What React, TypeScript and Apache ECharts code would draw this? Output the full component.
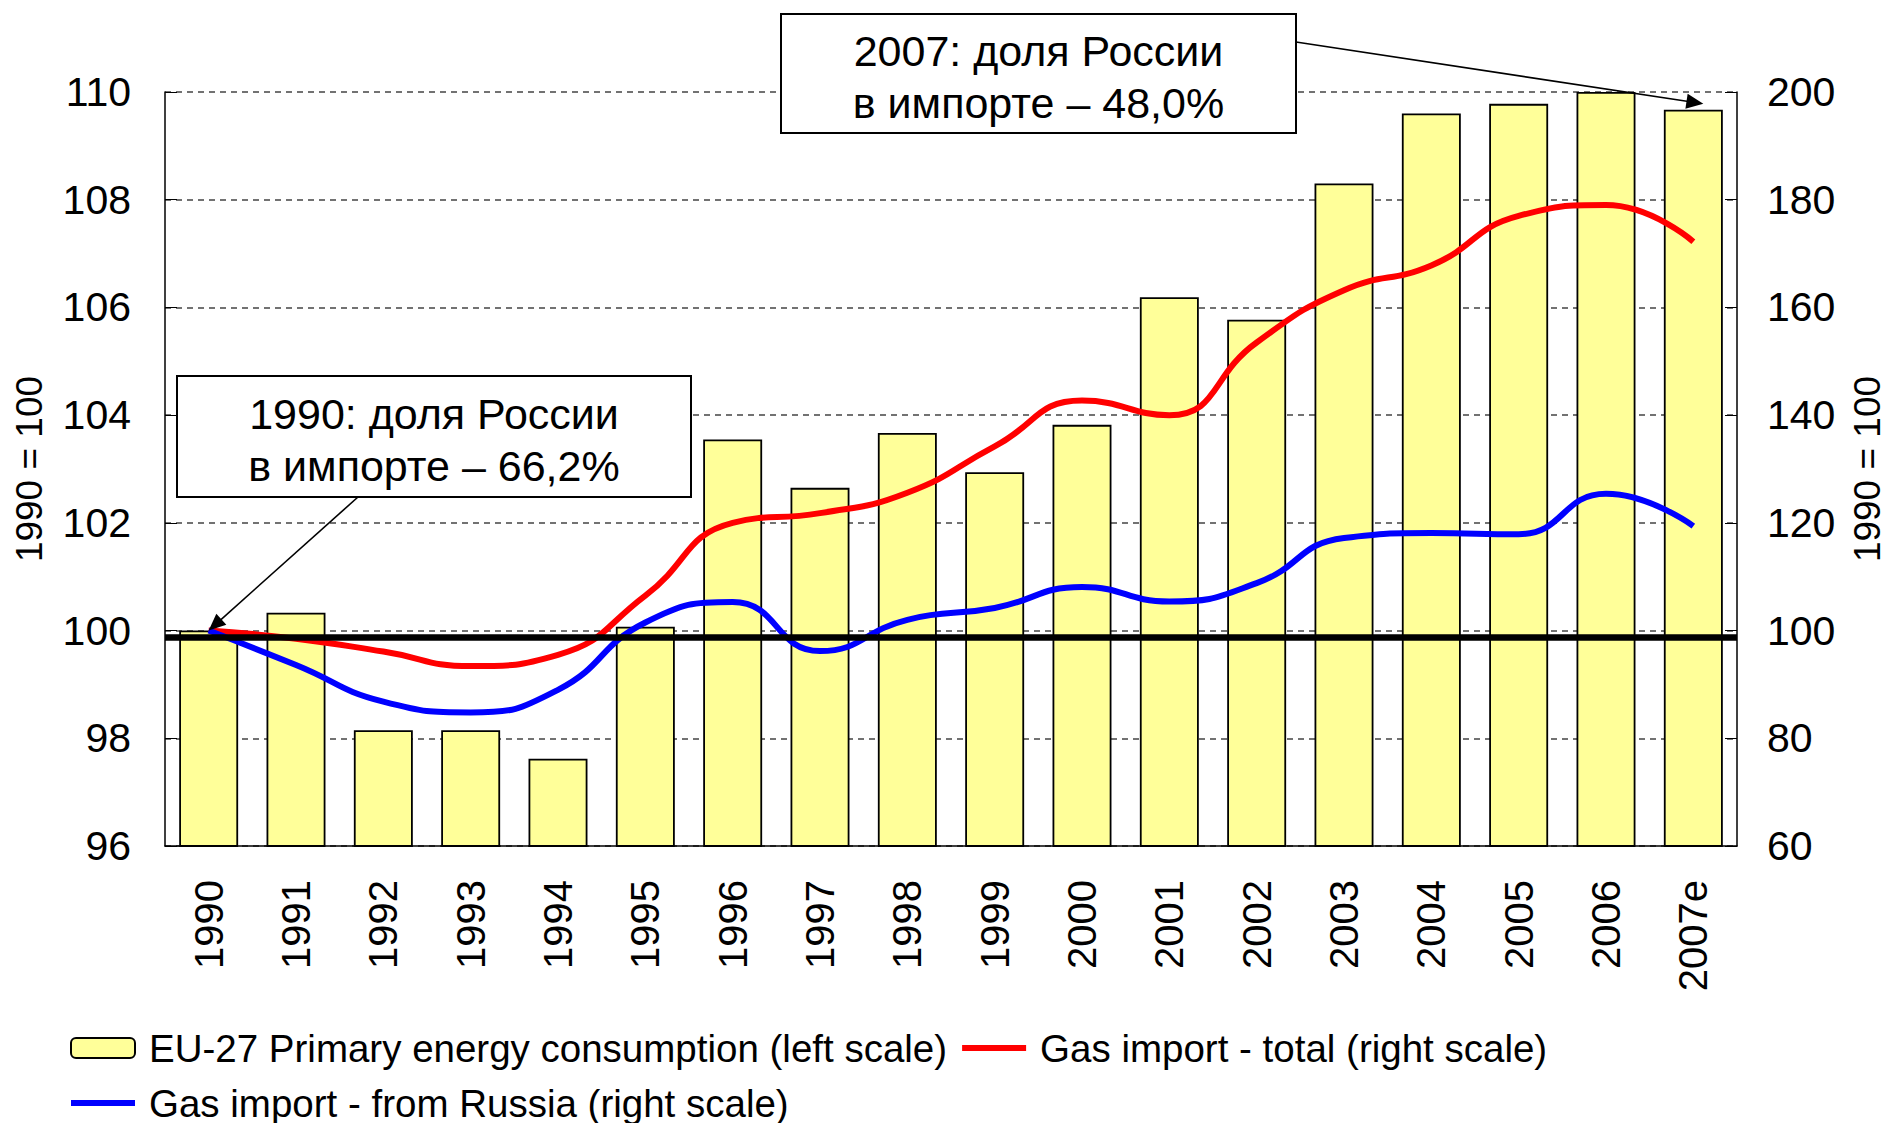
import React, { useEffect, useRef } from "react";
import * as echarts from "echarts";

const categories = [
  "1990", "1991", "1992", "1993", "1994", "1995", "1996", "1997", "1998",
  "1999", "2000", "2001", "2002", "2003", "2004", "2005", "2006", "2007e",
];
// EU-27 primary energy consumption, 1990 = 100 (left scale)
const consumption = [
  100.0, 100.33, 98.15, 98.15, 97.62, 100.07, 103.55, 102.65, 103.67,
  102.94, 103.82, 106.19, 105.77, 108.3, 109.6, 109.78, 110.0, 109.67,
];
// Gas import - total, 1990 = 100 (right scale)
const gasTotal = [
  100, 98.5, 96.1, 93.4, 95.5, 106.5, 120.0, 121.8, 125.6,
  134.2, 142.7, 140.0, 153.5, 163.2, 167.8, 177.0, 179.0, 172.2,
];
// Gas import - from Russia, 1990 = 100 (right scale)
const gasRussia = [
  100, 93.6, 86.8, 84.8, 89.0, 101.5, 105.3, 96.2, 102.0,
  104.2, 108.1, 105.4, 108.8, 117.2, 118.1, 117.9, 125.4, 119.4,
];
const baselineValue = 99.87;
const leftAxis = { min: 96, max: 110, interval: 2 };
const rightAxis = { min: 60, max: 200, interval: 20 };
const axisName = "1990 = 100";
const seriesNames = [
  "EU-27 Primary energy consumption (left scale)",
  "Gas import - total (right scale)",
  "Gas import - from Russia (right scale)",
];
const note1990 = ["1990: доля России", "в импорте – 66,2%"];
const note2007 = ["2007: доля России", "в импорте – 48,0%"];
const note1990Target = { category: "1990", value: 100 };
const note2007Target = { category: "2007e", value: 109.67 };

const FONT = "'Liberation Sans', Arial, Helvetica, sans-serif";
const LINE_ICON = "path://M0 0H64V6H0Z";

function arrow(id: string, sx: number, sy: number, tx: number, ty: number) {
  const dx = tx - sx;
  const dy = ty - sy;
  const len = Math.sqrt(dx * dx + dy * dy);
  const ux = dx / len;
  const uy = dy / len;
  const L = 17;
  const W = 7.5;
  const bx = tx - ux * L;
  const by = ty - uy * L;
  const nx = -uy;
  const ny = ux;
  return [
    {
      id: id + "-line",
      type: "line",
      z: 100,
      shape: { x1: sx, y1: sy, x2: bx + ux * 2, y2: by + uy * 2 },
      style: { stroke: "#000", lineWidth: 1.6 },
    },
    {
      id: id + "-head",
      type: "polygon",
      z: 100,
      shape: {
        points: [
          [tx, ty],
          [bx + nx * W, by + ny * W],
          [bx - nx * W, by - ny * W],
        ],
      },
      style: { fill: "#000" },
    },
  ];
}

function noteBox(id: string, x: number, y: number, w: number, h: number, lines: string[]) {
  return {
    id,
    type: "group",
    x,
    y,
    z: 100,
    children: [
      {
        type: "rect",
        shape: { x: 0, y: 0, width: w, height: h },
        style: { fill: "#fff", stroke: "#000", lineWidth: 2 },
        z: 100,
      },
      {
        type: "text",
        x: w / 2,
        y: h / 2 + 3,
        z: 101,
        style: {
          text: lines.join("\n"),
          fontSize: 43,
          fontFamily: FONT,
          fill: "#000",
          align: "center",
          verticalAlign: "middle",
          lineHeight: 52,
        },
      },
    ],
  };
}

export default function App() {
  const ref = useRef<HTMLDivElement>(null);

  useEffect(() => {
    if (!ref.current) return;
    const chart = echarts.init(ref.current, null, { renderer: "svg" });

    const box1990 = { x: 177, y: 376, w: 514, h: 121 };
    const box2007 = { x: 781, y: 14, w: 515, h: 119 };

    const option: any = {
      animation: false,
      textStyle: { fontFamily: FONT, color: "#000" },
      grid: {
        left: 165,
        right: 153,
        top: 92,
        bottom: 277,
        containLabel: false,
        outerBoundsMode: "none",
      },
      legend: {
        left: 70,
        top: 1028,
        width: 1500,
        padding: 0,
        itemWidth: 64,
        itemHeight: 20,
        itemGap: 15,
        data: [
          { name: seriesNames[0] },
          { name: seriesNames[1], icon: LINE_ICON },
          { name: seriesNames[2], icon: LINE_ICON },
        ],
        textStyle: {
          fontSize: 38.5,
          color: "#000",
          fontFamily: FONT,
          lineHeight: 40,
          padding: [0, 0, 0, 9],
        },
      },
      xAxis: {
        type: "category",
        data: categories,
        boundaryGap: true,
        axisLine: { lineStyle: { color: "#000", width: 1.5 } },
        axisTick: { inside: true, length: 12, lineStyle: { color: "#000", width: 1 } },
        axisLabel: { rotate: 90, margin: 34, fontSize: 40, color: "#000", fontFamily: FONT },
        splitLine: { show: false },
      },
      yAxis: [
        {
          type: "value",
          position: "left",
          min: leftAxis.min,
          max: leftAxis.max,
          interval: leftAxis.interval,
          name: axisName,
          nameLocation: "middle",
          nameRotate: 90,
          nameGap: 117,
          nameTextStyle: { fontSize: 37, color: "#000", fontFamily: FONT },
          axisLine: { show: true, lineStyle: { color: "#000", width: 1.5 } },
          axisTick: { show: true, inside: true, length: 12, lineStyle: { color: "#000" } },
          axisLabel: { fontSize: 41, color: "#000", margin: 34, fontFamily: FONT },
          splitLine: { show: true, lineStyle: { color: "#444", type: [6, 5], width: 1.5 } },
        },
        {
          type: "value",
          position: "right",
          min: rightAxis.min,
          max: rightAxis.max,
          interval: rightAxis.interval,
          name: axisName,
          nameLocation: "middle",
          nameRotate: 90,
          nameGap: 112,
          nameTextStyle: { fontSize: 37, color: "#000", fontFamily: FONT },
          axisLine: { show: true, lineStyle: { color: "#000", width: 1.5 } },
          axisTick: { show: true, inside: true, length: 12, lineStyle: { color: "#000" } },
          axisLabel: { fontSize: 41, color: "#000", margin: 30, fontFamily: FONT },
          splitLine: { show: false },
        },
      ],
      series: [
        {
          name: seriesNames[0],
          type: "bar",
          data: consumption,
          barWidth: "67.5%",
          itemStyle: { color: "#FFFF99", borderColor: "#000", borderWidth: 1.8 },
          markLine: {
            silent: true,
            symbol: "none",
            label: { show: false },
            lineStyle: { color: "#000", width: 6.5, type: "solid" },
            data: [{ yAxis: baselineValue }],
          },
        },
        {
          name: seriesNames[1],
          type: "line",
          yAxisIndex: 1,
          data: gasTotal,
          smooth: 0.5,
          symbol: "none",
          lineStyle: { color: "#FF0000", width: 6 },
          itemStyle: { color: "#FF0000" },
          z: 3,
        },
        {
          name: seriesNames[2],
          type: "line",
          yAxisIndex: 1,
          data: gasRussia,
          smooth: 0.5,
          symbol: "none",
          lineStyle: { color: "#0000FF", width: 6 },
          itemStyle: { color: "#0000FF" },
          z: 3,
        },
      ],
      graphic: [
        noteBox("box2007", box2007.x, box2007.y, box2007.w, box2007.h, note2007),
        noteBox("box1990", box1990.x, box1990.y, box1990.w, box1990.h, note1990),
      ],
    };
    chart.setOption(option);

    const p1990 = chart.convertToPixel({ xAxisIndex: 0, yAxisIndex: 0 }, [
      note1990Target.category,
      note1990Target.value,
    ]) as number[];
    const p2007 = chart.convertToPixel({ xAxisIndex: 0, yAxisIndex: 0 }, [
      note2007Target.category,
      note2007Target.value,
    ]) as number[];

    const arrows = [
      ...arrow("arr1990", box1990.x + 181, box1990.y + box1990.h, p1990[0], p1990[1]),
      ...arrow("arr2007", box2007.x + box2007.w, box2007.y + 28, p2007[0] + 10, p2007[1] - 6),
    ];
    chart.setOption({ graphic: [...option.graphic, ...arrows] });

    return () => chart.dispose();
  }, []);

  return (
    <div
      ref={ref}
      style={{ position: "fixed", left: 0, top: 0, width: 1890, height: 1123, background: "#fff" }}
    />
  );
}
